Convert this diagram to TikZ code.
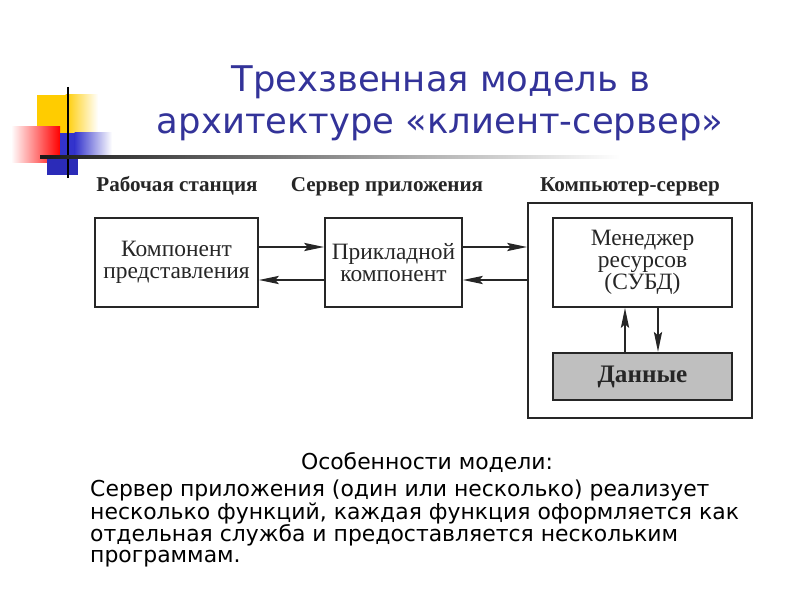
\documentclass[tikz,border=0pt]{standalone}
\usepackage{fontspec}
\setmainfont{Liberation Serif}
\newfontfamily\dejavu{DejaVu Sans}
\usetikzlibrary{arrows.meta}
\definecolor{titleblue}{HTML}{333399}
\definecolor{decoyellow}{HTML}{FFCC00}
\definecolor{decored}{HTML}{FF0000}
\definecolor{decoblue}{HTML}{3333CC}
\definecolor{decodblue}{HTML}{2B2BB8}
\begin{document}
\begin{tikzpicture}[x=0.03cm,y=-0.03cm,
  box/.style={draw=black!85, line width=1.6pt, align=center, inner sep=0pt,
    font=\fontsize{20}{19}\selectfont, text=black!85},
  head/.style={anchor=base, font=\bfseries\fontsize{18}{20}\selectfont, text=black!85},
  arr/.style={line width=1.6pt, draw=black!85, -{Stealth[length=17pt,width=7pt,inset=3pt]}},
  ttl/.style={anchor=base, text=titleblue, font=\dejavu\fontsize{30.2}{34}\selectfont},
  body/.style={anchor=base west, font=\dejavu\fontsize{18.7}{20}\selectfont, inner sep=0pt}]
\useasboundingbox (0,0) rectangle (800,600);
% decoration
\fill[decoyellow] (37,95) rectangle (66,133);
\shade[left color=decoyellow, right color=white] (65.5,95) rectangle (98,133);
\shade[left color=white, right color=decored] (11,127) rectangle (60,163);
\fill[decoblue] (60,133) rectangle (75,157);
\shade[left color=decoblue, right color=white] (74.5,133) rectangle (112,157);
\fill[decodblue] (47,157) rectangle (78,175);
\draw[line width=2pt, black] (68,87) -- (68,178);
\shade[left color=black!90, middle color=black!45, right color=white] (40,155.7) rectangle (620,158.7);
% title
\node[ttl] (t1) at (441,92) {Трехзвенная модель в};
\node[ttl] (t2) at (440,134) {архитектуре «клиент-сервер»};
% headings
\node[head] (h1) at (177,192) {Рабочая станция};
\node[head] (h2) at (387,192) {Сервер приложения};
\node[head] (h3) at (630,192) {Компьютер-сервер};
% boxes
\node[box, minimum width=4.89cm, minimum height=2.67cm] (b1) at (176.5,262.5) {Компонент\\представления};
\node[box, minimum width=4.11cm, minimum height=2.67cm] (b2) at (393.5,262.5) {Прикладной\\компонент};
\node[box, minimum width=6.72cm, minimum height=6.45cm] (b3) at (640,310.5) {};
\node[box, minimum width=5.37cm, minimum height=2.67cm] (b4) at (642.5,262.5) {Менеджер\\ресурсов\\(СУБД)};
\node[box, fill=black!25, line width=2pt, minimum width=5.37cm, minimum height=1.41cm,
  font=\bfseries\fontsize{21.5}{22}\selectfont] (d) at (642.5,376.5) {Данные};
% arrows
\draw[arr] ([yshift=.465cm]b1.east) -- ([yshift=.465cm]b2.west);
\draw[arr] ([yshift=-.525cm]b2.west) -- ([yshift=-.525cm]b1.east);
\draw[arr] ([yshift=.465cm]b2.east) -- ([yshift=.465cm]b2.east -| b3.west);
\draw[arr] ([yshift=-.525cm]b2.east -| b3.west) -- ([yshift=-.525cm]b2.east);
\draw[arr] ([xshift=-.525cm]d.north) -- ([xshift=-.525cm]d.north |- b4.south);
\draw[arr] ([xshift=.465cm]b4.south) -- ([xshift=.465cm]b4.south |- d.north);
% bottom text
\node[anchor=base, font=\dejavu\fontsize{18.7}{20}\selectfont] (f0) at (427,470) {Особенности модели:};
\node[body] (f1) at (90,497) {Сервер приложения (один или несколько) реализует};
\node[body] (f2) at (90,520) {несколько функций, каждая функция оформляется как};
\node[body] (f3) at (90,542) {отдельная служба и предоставляется нескольким};
\node[body] (f4) at (90,563) {программам.};
\end{tikzpicture}
\end{document}
